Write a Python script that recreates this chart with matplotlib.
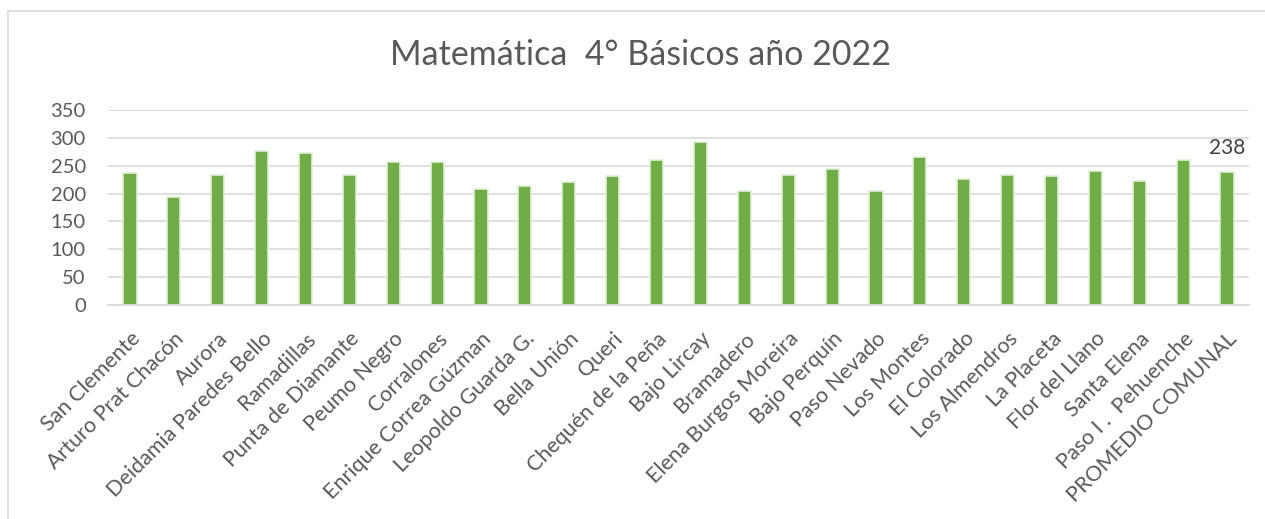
import matplotlib.pyplot as plt
import numpy as np
from matplotlib.lines import Line2D

escuelas = ['San Clemente', 'Arturo Prat Chacón', 'Aurora', 'Deidamia Paredes Bello',
            'Ramadillas', 'Punta de Diamante', 'Peumo Negro', 'Corralones',
            'Enrique Correa Gúzman', 'Leopoldo Guarda G.', 'Bella Unión', 'Queri',
            'Chequén de la Peña', 'Bajo Lircay', 'Bramadero', 'Elena Burgos Moreira',
            'Bajo Perquín', 'Paso Nevado', 'Los Montes', 'El Colorado', 'Los Almendros',
            'La Placeta', 'Flor del Llano', 'Santa Elena', 'Paso I .  Pehuenche',
            'PROMEDIO COMUNAL']
puntajes = [237, 194, 234, 277, 272, 234, 257, 257, 208, 214, 220, 231, 260,
            292, 205, 234, 245, 205, 266, 226, 234, 231, 240, 223, 260, 238]
yticks = [0, 50, 100, 150, 200, 250, 300, 350]

plt.rcParams['font.family'] = ['Lato', 'DejaVu Sans']
gris = '#595959'
verde = '#70AD47'

fig = plt.figure(figsize=(12.65, 5.19), dpi=100)
ax = fig.add_axes([108/1265, 1-305/519, (1249-108)/1265, 195/519])

x = np.arange(len(escuelas))
ax.bar(x, puntajes, width=0.3, color=verde, edgecolor='#E2F0D9', lw=1.2, zorder=2)
ax.text(x[-1], puntajes[-1] + 26, str(puntajes[-1]), ha='center', va='bottom',
        fontsize=15, color='#404040')

ax.set_xlim(-0.5, len(escuelas) - 0.5)
ax.set_ylim(0, 350)
ax.set_yticks(yticks)
ax.set_xticks(x)
ax.set_xticklabels(escuelas, rotation=45, ha='right', rotation_mode='anchor')
ax.tick_params(axis='both', length=0, labelcolor=gris)
ax.tick_params(axis='x', pad=17, labelsize=15.5)
ax.tick_params(axis='y', pad=16, labelsize=14.5)
ax.grid(axis='y', color='#D9D9D9', lw=1.2, zorder=0)
for s in ['top', 'right', 'left']:
    ax.spines[s].set_visible(False)
ax.spines['bottom'].set_color('#D9D9D9')
ax.spines['bottom'].set_linewidth(1.2)

fig.text(641/1265, 1-55/519, 'Matemática  4° Básicos año 2022', ha='center', va='center',
         fontsize=24.5, color=gris)

# marco del gráfico (solo se ven borde izquierdo y superior)
fig.lines.append(Line2D([8/1265, 8/1265, 1], [0, 1-11/519, 1-11/519],
                        transform=fig.transFigure, color='#D9D9D9', lw=1.2))

plt.savefig('out.png', dpi=100)
